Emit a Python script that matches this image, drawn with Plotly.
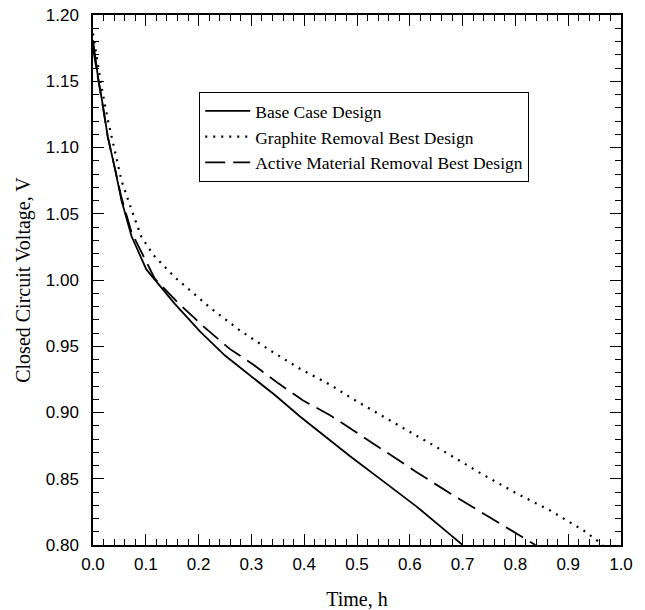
import plotly.graph_objects as go

# Base Case Design
base_t = [0.0, 0.0095, 0.019, 0.028, 0.041, 0.054, 0.073, 0.101, 0.155, 0.203, 0.25, 0.297,
          0.345, 0.392, 0.42, 0.487, 0.55, 0.613, 0.676, 0.70]
base_v = [1.181, 1.153, 1.131, 1.108, 1.085, 1.060, 1.033, 1.008, 0.982, 0.961, 0.943, 0.928,
          0.913, 0.897, 0.888, 0.867, 0.848, 0.829, 0.808, 0.800]

# Graphite Removal Best Design
graph_t = [0.0, 0.016, 0.028, 0.041, 0.054, 0.073, 0.091, 0.114, 0.155, 0.199, 0.222, 0.278,
           0.335, 0.392, 0.449, 0.493, 0.55, 0.613, 0.676, 0.739, 0.802, 0.866, 0.929, 0.966]
graph_v = [1.186, 1.146, 1.121, 1.098, 1.075, 1.053, 1.033, 1.019, 1.002, 0.987, 0.979, 0.962,
           0.947, 0.933, 0.921, 0.910, 0.897, 0.882, 0.868, 0.853, 0.839, 0.826, 0.811, 0.800]

# Active Material Removal Best Design
active_t = [0.0, 0.0095, 0.019, 0.028, 0.041, 0.054, 0.073, 0.117, 0.158, 0.209, 0.259, 0.304,
            0.351, 0.398, 0.449, 0.487, 0.55, 0.613, 0.676, 0.739, 0.802, 0.838]
active_v = [1.175, 1.151, 1.130, 1.108, 1.086, 1.062, 1.036, 1.001, 0.984, 0.965, 0.948, 0.936,
            0.922, 0.909, 0.898, 0.888, 0.872, 0.855, 0.839, 0.824, 0.809, 0.800]

x_ticks = [0.0, 0.1, 0.2, 0.3, 0.4, 0.5, 0.6, 0.7, 0.8, 0.9, 1.0]
y_ticks = [0.80, 0.85, 0.90, 0.95, 1.00, 1.05, 1.10, 1.15, 1.20]

fig = go.Figure()
fig.add_trace(go.Scatter(x=base_t, y=base_v, mode="lines", name="Base Case Design",
                         line=dict(color="black", width=1.8, dash="solid")))
fig.add_trace(go.Scatter(x=graph_t, y=graph_v, mode="lines", name="Graphite Removal Best Design",
                         line=dict(color="black", width=2.2, dash="2px,6px")))
fig.add_trace(go.Scatter(x=active_t, y=active_v, mode="lines",
                         name="Active Material Removal Best Design",
                         line=dict(color="black", width=1.8, dash="20px,8px")))

axis_common = dict(
    showgrid=False, zeroline=False, showline=True, linecolor="black", linewidth=1.5,
    mirror="allticks", ticks="inside", tickcolor="black", tickwidth=1.2, ticklen=11,
    tickfont=dict(family="Liberation Sans, Arial", size=17, color="black"),
    minor=dict(ticks="inside", ticklen=6, tickcolor="black", tickwidth=1.2),
    automargin=False,
)

fig.update_xaxes(range=[0, 1.0], tickvals=x_ticks, ticktext=[f"{v:.1f}" for v in x_ticks],
                 minor_dtick=0.02, ticklabelstandoff=3,
                 title=dict(text="Time, h", font=dict(family="Liberation Serif, Times New Roman",
                                                      size=20, color="black"), standoff=22),
                 **axis_common)
fig.update_yaxes(range=[0.80, 1.20], tickvals=y_ticks, ticktext=[f"{v:.2f}" for v in y_ticks],
                 minor_dtick=0.01, ticklabelstandoff=9,
                 title=dict(text="Closed Circuit Voltage, V",
                            font=dict(family="Liberation Serif, Times New Roman", size=20,
                                      color="black"), standoff=10),
                 **axis_common)

fig.update_layout(
    width=645, height=610,
    margin=dict(l=93, r=24, t=15, b=65),
    paper_bgcolor="white", plot_bgcolor="white",
    showlegend=True,
    legend=dict(x=0.2008, y=0.855, xanchor="left", yanchor="top",
                bgcolor="white", bordercolor="black", borderwidth=1.2,
                font=dict(family="Liberation Serif, Times New Roman", size=17.5, color="black"),
                itemwidth=45, tracegroupgap=0),
)

fig.write_html("out.html", config={"displayModeBar": False},
               post_script="document.body.style.margin='0';document.body.style.overflow='hidden';")
